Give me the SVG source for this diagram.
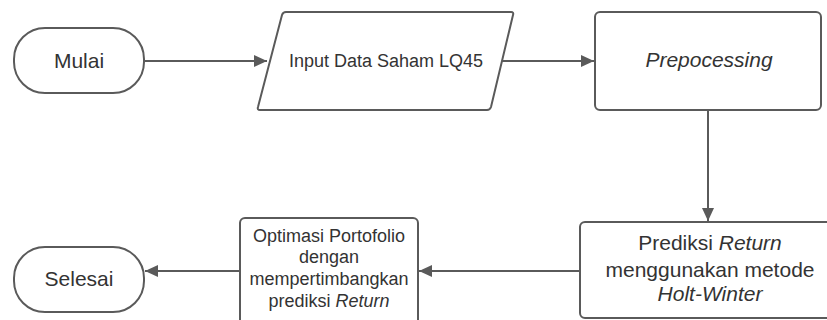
<svg xmlns="http://www.w3.org/2000/svg" width="827" height="320" viewBox="0 0 827 320">
  <style>
    .shape { fill: #ffffff; stroke: #5a5a5a; stroke-width: 2; }
    .conn { stroke: #5a5a5a; stroke-width: 2; fill: none; marker-end: url(#arrow); }
    text { font-family: "Liberation Sans", Arial, sans-serif; fill: #333333; text-anchor: middle; }
    .big { font-size: 21px; }
    .mid { font-size: 18px; }
    .it { font-style: italic; }
  </style>
  <defs>
    <marker id="arrow" markerUnits="userSpaceOnUse" markerWidth="14" markerHeight="12" refX="13" refY="6" orient="auto">
      <path d="M0,0 L13,6 L0,12 z" fill="#5a5a5a"/>
    </marker>
  </defs>
  <rect width="827" height="320" fill="#ffffff"/>

  <g id="connectors">
    <line class="conn" x1="144" y1="61" x2="267" y2="61"/>
    <line class="conn" x1="502" y1="61" x2="594" y2="61"/>
    <line class="conn" x1="708" y1="110" x2="708" y2="221"/>
    <line class="conn" x1="580" y1="271" x2="419" y2="271"/>
    <line class="conn" x1="240" y1="271" x2="145" y2="271"/>
  </g>

  <g id="mulai">
    <rect class="shape" x="14" y="28" width="130" height="65" rx="31" ry="31"/>
    <text class="big" x="79" y="68">Mulai</text>
  </g>

  <g id="input">
    <path class="shape" d="M286,12 L511,12 Q514,12 513,15 L491,107 Q490,110 487,110 L260,110 Q257,110 258,107 L282,15 Q283,12 286,12 Z"/>
    <text class="mid" x="386" y="67">Input Data Saham LQ45</text>
  </g>

  <g id="prepocessing">
    <rect class="shape" x="595" y="12" width="226" height="98" rx="5" ry="5"/>
    <text class="big it" x="709" y="67">Prepocessing</text>
  </g>

  <g id="prediksi">
    <rect class="shape" x="580" y="222" width="262" height="96" rx="5" ry="5"/>
    <text class="big" x="710" y="250">Prediksi <tspan class="it">Return</tspan></text>
    <text class="big" x="710" y="277">menggunakan metode</text>
    <text class="big it" x="710" y="301">Holt-Winter</text>
  </g>

  <g id="optimasi">
    <rect class="shape" x="240" y="218" width="178" height="112" rx="5" ry="5"/>
    <text class="mid" x="329" y="242">Optimasi Portofolio</text>
    <text class="mid" x="329" y="263">dengan</text>
    <text class="mid" x="329" y="285">mempertimbangkan</text>
    <text class="mid" x="329" y="307">prediksi <tspan class="it">Return</tspan></text>
  </g>

  <g id="selesai">
    <rect class="shape" x="14" y="247" width="130" height="65" rx="31" ry="31"/>
    <text class="big" x="79" y="286">Selesai</text>
  </g>
</svg>
